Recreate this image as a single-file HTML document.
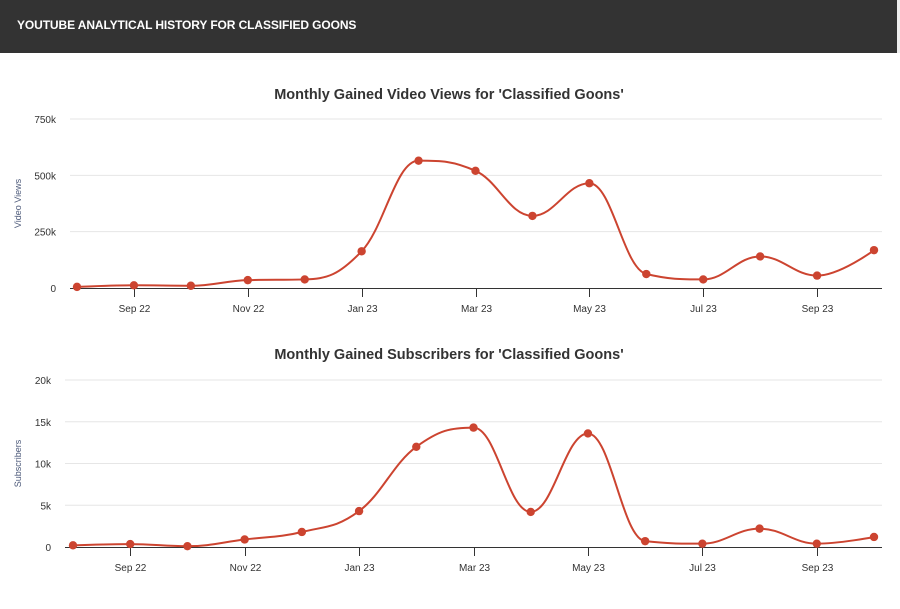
<!DOCTYPE html>
<html><head><meta charset="utf-8"><style>
body{margin:0;width:900px;height:609px;background:#fff;font-family:"Liberation Sans",sans-serif;overflow:hidden}
#hdr{position:absolute;left:0;top:0;width:897px;height:53px;background:#333;}
#hdr span{position:absolute;left:17px;top:18px;color:#fff;font-weight:bold;font-size:12px;letter-spacing:-0.1px}
#edge{position:absolute;left:897px;top:0;width:3px;height:53px;background:#eee}
svg{position:absolute;left:0;top:0}
</style></head><body>
<div id="hdr"><span>YOUTUBE ANALYTICAL HISTORY FOR CLASSIFIED GOONS</span></div>
<div id="edge"></div>
<svg id="svg" width="900" height="609"></svg>
<script>
const months = ["Aug 22","Sep 22","Oct 22","Nov 22","Dec 22","Jan 23","Feb 23","Mar 23","Apr 23","May 23","Jun 23","Jul 23","Aug 23","Sep 23","Oct 23"];
const viewsValues = [5000,12000,10000,35000,38000,163000,565000,520000,320000,465000,62000,38000,140000,55000,168000];
const subsValues = [200,350,100,900,1800,4300,12000,14300,4200,13600,700,400,2200,400,1200];
const viewsTicks = [0,250000,500000,750000];
const viewsTickLabels = ["0","250k","500k","750k"];
const subsTicks = [0,5000,10000,15000,20000];
const subsTickLabels = ["0","5k","10k","15k","20k"];
const xTickLabels = ["Sep 22","Nov 22","Jan 23","Mar 23","May 23","Jul 23","Sep 23"];
const xTickIndex = [1,3,5,7,9,11,13];

const NS="http://www.w3.org/2000/svg";
const svg=document.getElementById('svg');
function mk(t,a,p){const e=document.createElementNS(NS,t);for(const k in a)e.setAttribute(k,a[k]);(p||svg).appendChild(e);return e;}

function conts(pts,i){
  const sm=1.5,den=2.5;
  const [x,y]=pts[i];
  if(i===0||i===pts.length-1) return [[x,y],[x,y]];
  const [lx,ly]=pts[i-1],[nx,ny]=pts[i+1];
  let lcx=(sm*x+lx)/den,lcy=(sm*y+ly)/den,rcx=(sm*x+nx)/den,rcy=(sm*y+ny)/den;
  if(rcx!==lcx){const c=((rcy-lcy)*(rcx-x))/(rcx-lcx)+y-rcy;lcy+=c;rcy+=c;}
  if(lcy>Math.max(ly,y)){lcy=Math.max(ly,y);rcy=2*y-lcy;}
  else if(lcy<Math.min(ly,y)){lcy=Math.min(ly,y);rcy=2*y-lcy;}
  if(rcy>Math.max(ny,y)){rcy=Math.max(ny,y);lcy=2*y-rcy;}
  else if(rcy<Math.min(ny,y)){rcy=Math.min(ny,y);lcy=2*y-rcy;}
  return [[lcx,lcy],[rcx,rcy]];
}

function chart(cfg){
  const g=mk('g',{});
  
  
  const x=i=>cfg.x0+(cfg.x1-cfg.x0)*i/(months.length-1);
  const y=v=>cfg.yb-(cfg.yb-cfg.yt)*v/cfg.max;
  const t=mk('text',{x:449,y:cfg.titleY,'text-anchor':'middle','font-size':'14.5','font-weight':'bold',fill:'#333'},g);
  t.textContent=cfg.title;
  
  
  cfg.ticks.forEach((v,i)=>{
    if(v>0){const l=mk('line',{x1:cfg.gx,x2:882,y1:y(v),y2:y(v),stroke:'#e6e6e6','stroke-width':1},g);
    
    }
    const lb=mk('text',{x:cfg.gx-14,y:y(v)+4,'text-anchor':'end','font-size':'10',fill:'#333'},g);
    lb.textContent=cfg.tickLabels[i];
    
    
  });
  const yt=mk('text',{x:0,y:0,'text-anchor':'middle','font-size':'9',fill:'#4d5a7a',transform:`translate(21,${(cfg.yt+cfg.yb)/2}) rotate(-90)`},g);
  yt.textContent=cfg.axisTitle;
  
  
  const ax=mk('line',{x1:cfg.gx,x2:882,y1:cfg.yb+0.5,y2:cfg.yb+0.5,stroke:'#333','stroke-width':1},g);
  
  
  xTickIndex.forEach((idx,i)=>{
    const tx=Math.round(x(idx))+0.5;
    const tk=mk('line',{x1:tx,x2:tx,y1:cfg.yb,y2:cfg.yb+9,stroke:'#333'},g);
    
    
    const lb=mk('text',{x:tx,y:cfg.yb+24,'text-anchor':'middle','font-size':'10',fill:'#333'},g);
    lb.textContent=xTickLabels[i];
    
    
  });
  const pts=cfg.values.map((v,i)=>[x(i),y(v)]);
  const cs=pts.map((p,i)=>conts(pts,i));
  let d=`M${pts[0][0]},${pts[0][1]}`;
  for(let i=0;i<pts.length-1;i++){
    const c1=cs[i][1],c2=cs[i+1][0],p2=pts[i+1];
    d+=` C${c1[0]},${c1[1]} ${c2[0]},${c2[1]} ${p2[0]},${p2[1]}`;
  }
  const ln=mk('path',{d:d,fill:'none',stroke:'#cc4430','stroke-width':2},g);
  
  
  pts.forEach((p,i)=>{
    const c=mk('circle',{cx:p[0],cy:p[1],r:4.2,fill:'#cc4430'},g);
    
    
  });
}
chart({name:'views-chart',title:"Monthly Gained Video Views for 'Classified Goons'",titleY:99,axisTitle:'Video Views',values:viewsValues,ticks:viewsTicks,tickLabels:viewsTickLabels,max:750000,x0:77,x1:874,yt:119,yb:288,gx:70});
chart({name:'subscribers-chart',title:"Monthly Gained Subscribers for 'Classified Goons'",titleY:359,axisTitle:'Subscribers',values:subsValues,ticks:subsTicks,tickLabels:subsTickLabels,max:20000,x0:73,x1:874,yt:380,yb:547,gx:65});
</script>
</body></html>
